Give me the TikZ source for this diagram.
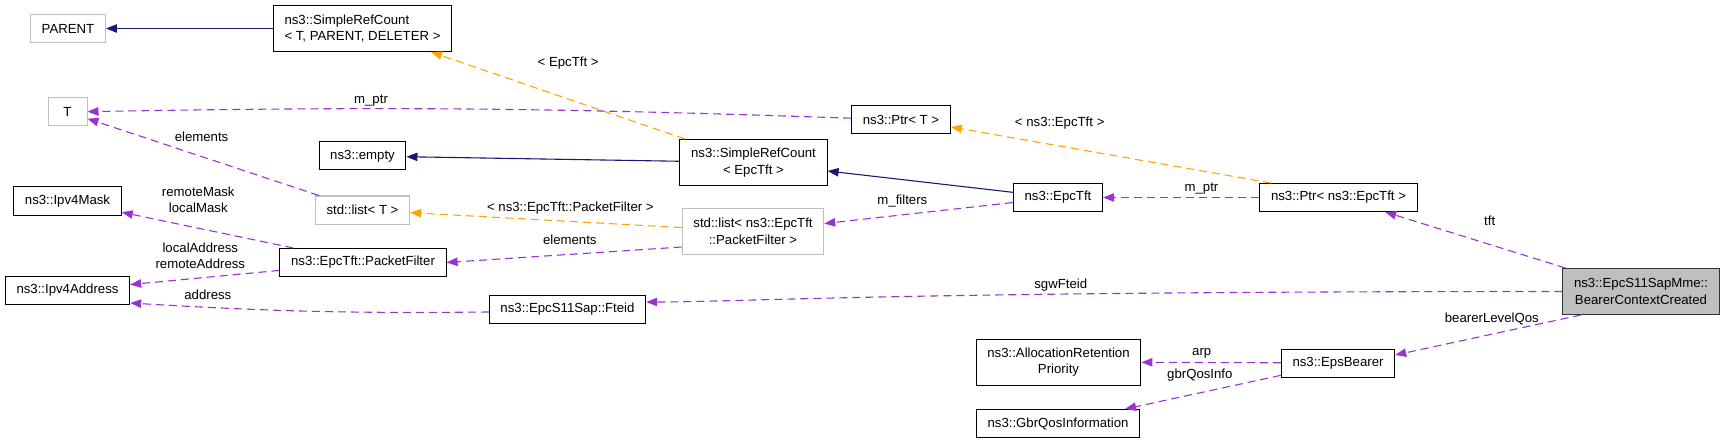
\documentclass[tikz,border=0pt]{standalone}
\usepackage{fontspec}
\setmainfont{Liberation Sans}
\usetikzlibrary{arrows.meta}

\definecolor{navyedge}{HTML}{191970}
\definecolor{orchidedge}{HTML}{9A32CD}
\definecolor{orangeedge}{HTML}{FFA500}

\begin{document}
\begin{tikzpicture}[
    x=0.5pt, y=-0.5pt,
    cls/.style={draw=black, fill=white, line width=0.5pt, minimum height=14pt, inner xsep=5.6pt, inner ysep=1pt, align=center, font=\fontsize{6.6}{8.25}\selectfont},
    tpl/.style={cls, draw=black!25},
    focus/.style={cls, fill=black!25, draw=black!80},
    lbl/.style={inner sep=0pt, align=center, font=\fontsize{6.6}{8.25}\selectfont},
    inherit/.style={draw=navyedge, line width=0.55pt, -{Triangle[length=5.5pt, width=4.2pt]}},
    inst/.style={draw=orangeedge, line width=0.55pt, dash pattern=on 4pt off 2.5pt, -{Triangle[length=5.5pt, width=4.2pt]}},
    usage/.style={draw=orchidedge, line width=0.55pt, dash pattern=on 4pt off 2.5pt, -{Triangle[length=5.5pt, width=4.2pt]}}
]
\useasboundingbox (0,0) rectangle (1725,444);

% Left column
\node[tpl] (parent) at (68,28.5) {PARENT};
\node[tpl, minimum width=19.5pt] (t) at (67.5,112) {T};
\node[cls] (ipv4mask) at (67.5,201) {ns3::Ipv4Mask};
\node[cls] (ipv4addr) at (67.5,290.5) {ns3::Ipv4Address};

% Second column
\node[cls, minimum height=23pt, align=left] (srtpd) at (362.5,28.5) {ns3::SimpleRefCount\\< T, PARENT, DELETER >};
\node[cls] (empty) at (362.5,156) {ns3::empty};
\node[tpl] (listt) at (362.5,210) {std::list< T >};
\node[cls] (pf) at (363,262.5) {ns3::EpcTft::PacketFilter};
\node[cls] (fteid) at (567.5,309) {ns3::EpcS11Sap::Fteid};

% Middle columns
\node[cls, minimum height=23pt] (srepc) at (753.5,162.5) {ns3::SimpleRefCount\\< EpcTft >};
\node[tpl, minimum height=23pt] (listpf) at (753,231.5) {std::list< ns3::EpcTft\\::PacketFilter >};
\node[cls] (ptrt) at (901,120) {ns3::Ptr< T >};
\node[cls] (epctft) at (1058,197.5) {ns3::EpcTft};
\node[cls, minimum height=23pt] (arp) at (1058.5,362) {ns3::AllocationRetention\\Priority};
\node[cls] (gbr) at (1058,423.5) {ns3::GbrQosInformation};

% Right columns
\node[cls] (ptrepc) at (1338.5,197.5) {ns3::Ptr< ns3::EpcTft >};
\node[cls] (epsb) at (1338,363) {ns3::EpsBearer};
\node[focus, minimum height=23pt] (bcc) at (1641,291.5) {ns3::EpcS11SapMme::\\BearerContextCreated};

% Inheritance
\draw[inherit] (srtpd) -- (parent);
\draw[inherit] (srepc) -- (empty);
\draw[inherit] (epctft) -- (srepc);

% Template instances
\draw[inst] (srepc) -- node[lbl, pos=0.46, yshift=18pt] {< EpcTft >} (srtpd);
\draw[inst] ([xshift=-33.75pt]ptrepc.north) -- node[lbl, pos=0.66, yshift=11.45pt] {< ns3::EpcTft >} ([yshift=-3.5pt]ptrt.east);
\draw[inst] (listpf) -- node[lbl, pos=0.41, yshift=6.7pt] {< ns3::EpcTft::PacketFilter >} (listt);

% Usage - members
\draw[usage] (ptrt) to[bend right=1.5] node[lbl, pos=0.64, yshift=4pt] {m\_ptr} (t);
\draw[usage] (ptrepc) -- node[lbl, pos=0.37, yshift=4.5pt] {m\_ptr} (epctft);
\draw[usage] (epctft) -- node[lbl, pos=0.586, yshift=6.75pt] {m\_filters} (listpf);
\draw[usage] (listt) -- node[lbl, pos=0.507, yshift=9.85pt] {elements} (t);
\draw[usage] ([yshift=-7.75pt]listpf.west) -- node[lbl, pos=0.476, yshift=7.2pt] {elements} (pf.east);
\draw[usage] (pf) -- node[lbl, pos=0.554, yshift=14.25pt] {remoteMask\\localMask} (ipv4mask);
\draw[usage] (pf) -- node[lbl, pos=0.53, yshift=11pt] {localAddress\\remoteAddress} (ipv4addr);
\draw[usage] ([yshift=-1.5pt]fteid.west) to[bend left=2] node[lbl, pos=0.8, yshift=6.25pt] {address} ([yshift=-6.25pt]ipv4addr.east);
\draw[usage] (bcc.west) .. controls (900,291.5) and (740,302) .. node[lbl, pos=0.325, yshift=4.5pt] {sgwFteid} ([yshift=3.5pt]fteid.east);
\draw[usage] (bcc) -- node[lbl, pos=0.42, yshift=11.85pt] {tft} (ptrepc);
\draw[usage] ([xshift=-30pt]bcc.south) -- node[lbl, pos=0.48, yshift=7.5pt] {bearerLevelQos} ([yshift=4pt]epsb.east);
\draw[usage] (epsb) -- node[lbl, pos=0.567, yshift=4.5pt] {arp} (arp);
\draw[usage] (epsb) -- node[lbl, pos=0.52, yshift=8.8pt] {gbrQosInfo} (gbr);

\end{tikzpicture}
\end{document}
